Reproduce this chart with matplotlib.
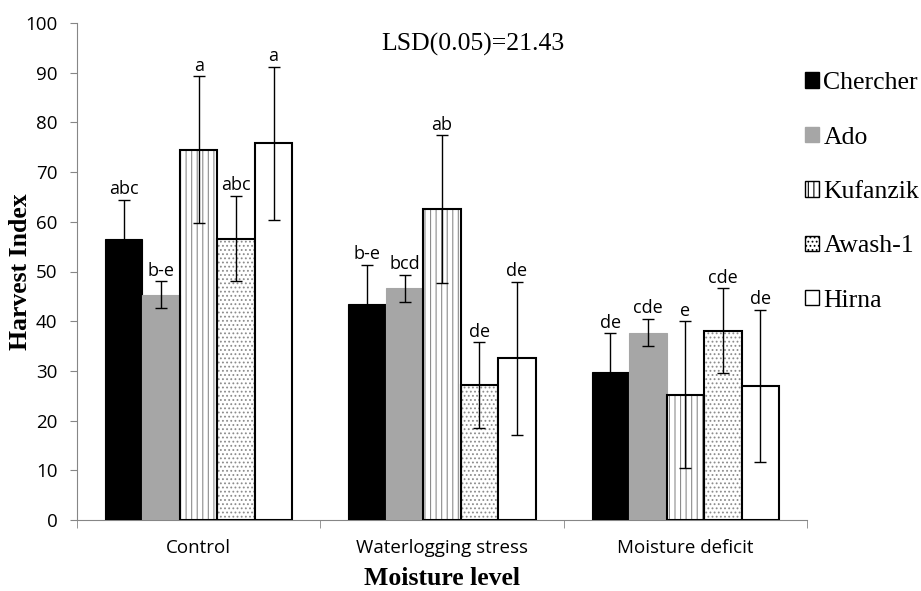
import numpy as np
import matplotlib
matplotlib.use("Agg")
import matplotlib.pyplot as plt
from matplotlib.patches import Patch

groups = ["Control", "Waterlogging stress", "Moisture deficit"]
varieties = ["Chercher", "Ado", "Kufanzik", "Awash-1", "Hirna"]

# harvest index per variety, in group order
means = {
    "Chercher": [56.6, 43.5, 29.7],
    "Ado":      [45.3, 46.6, 37.7],
    "Kufanzik": [74.5, 62.6, 25.2],
    "Awash-1":  [56.6, 27.2, 38.1],
    "Hirna":    [75.8, 32.5, 27.0],
}
errs = {
    "Chercher": [7.8, 7.9, 7.9],
    "Ado":      [2.7, 2.75, 2.75],
    "Kufanzik": [14.8, 14.85, 14.8],
    "Awash-1":  [8.6, 8.6, 8.55],
    "Hirna":    [15.4, 15.4, 15.35],
}
letters = {
    "Chercher": ["abc", "b-e", "de"],
    "Ado":      ["b-e", "bcd", "cde"],
    "Kufanzik": ["a", "ab", "e"],
    "Awash-1":  ["abc", "de", "cde"],
    "Hirna":    ["a", "de", "de"],
}

styles = {
    "Chercher": dict(color="black", hatch=None, edge="black"),
    "Ado":      dict(color="#a6a6a6", hatch=None, edge="#a6a6a6"),
    "Kufanzik": dict(color="white", hatch="|||", edge="black"),
    "Awash-1":  dict(color="white", hatch="....", edge="black"),
    "Hirna":    dict(color="white", hatch=None, edge="black"),
}

plt.rcParams["hatch.linewidth"] = 0.8

fig = plt.figure(figsize=(9.21, 5.91), dpi=100)
ax = fig.add_axes([77/921, 1-520/591, (807-77)/921, (520-23)/591])

x = np.arange(len(groups))
w = 0.154
for i, v in enumerate(varieties):
    pos = x + (i - 2) * w
    st = styles[v]
    if st["hatch"]:
        ax.bar(pos, means[v], w, color="white", edgecolor="#8c8c8c",
               hatch=st["hatch"], linewidth=0, zorder=2)
        ax.bar(pos, means[v], w, color="none", edgecolor="black",
               linewidth=1.5, zorder=3)
    else:
        ax.bar(pos, means[v], w, color=st["color"], edgecolor=st["edge"],
               linewidth=1.5 if v == "Hirna" else 0.8, zorder=3)
    ax.errorbar(pos, means[v], yerr=errs[v], fmt="none", ecolor="black",
                elinewidth=1, capsize=4, capthick=1, zorder=4)
    for p, m, e, t in zip(pos, means[v], errs[v], letters[v]):
        ax.text(p, m + e + 0.3, t, ha="center", va="bottom", fontsize=13,
                family="Open Sans", zorder=5)

leg_handles = [
    Patch(facecolor="black", edgecolor="black"),
    Patch(facecolor="#a6a6a6", edgecolor="#a6a6a6"),
    Patch(facecolor="white", edgecolor="black", hatch="|||"),
    Patch(facecolor="white", edgecolor="black", hatch="...."),
    Patch(facecolor="white", edgecolor="black"),
]
fig.legend(leg_handles, varieties, loc="upper left",
           bbox_to_anchor=(795/921, 1-62/591), frameon=False,
           prop={"family": "Liberation Serif", "size": 18.5},
           handlelength=0.55, handleheight=0.55, handletextpad=0.15,
           labelspacing=1.26, borderaxespad=0)

ax.set_xlim(-0.5, 2.5)
ax.set_ylim(0, 100)
ax.set_yticks(np.arange(0, 101, 10))
ax.set_xticks(x)
ax.set_xticklabels(groups, fontsize=13.5, family="Open Sans")
ax.set_xticks([-0.5, 0.5, 1.5, 2.5], minor=True)
ax.tick_params(axis="x", which="major", length=0, pad=14)
ax.tick_params(axis="x", which="minor", length=6, color="#868686", direction="out")
ax.tick_params(axis="y", length=5, color="#868686", labelsize=13.5, pad=9)
for lab in ax.get_yticklabels():
    lab.set_family("Open Sans")
for s in ["top", "right"]:
    ax.spines[s].set_visible(False)
for s in ["left", "bottom"]:
    ax.spines[s].set_color("#868686")

ax.set_ylabel("Harvest Index", fontsize=18.5, fontweight="bold",
              family="Liberation Serif")
ax.yaxis.set_label_coords(-0.062, 0.5)
ax.set_xlabel("Moisture level", fontsize=18.5, fontweight="bold",
              family="Liberation Serif")
ax.xaxis.set_label_coords(0.5, -0.095)

fig.text(473/921, 1-44/591, "LSD(0.05)=21.43", ha="center", va="center",
         fontsize=18.5, family="Liberation Serif")

fig.savefig("out.png", dpi=100)
